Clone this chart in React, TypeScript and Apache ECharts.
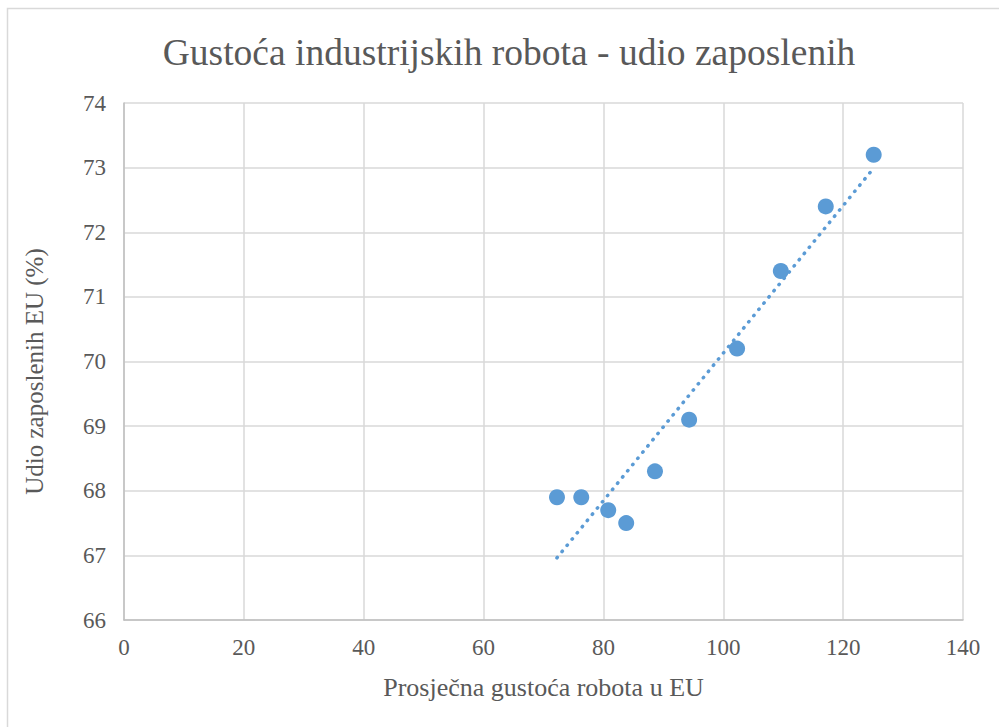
import React, { useEffect, useRef } from "react";
import * as echarts from "echarts";

const robotDensity = [72.25, 76.3, 80.8, 83.8, 88.6, 94.3, 102.3, 109.6, 117.1, 125.1];
const employmentShare = [67.9, 67.9, 67.7, 67.5, 68.3, 69.1, 70.2, 71.4, 72.4, 73.2];

const titleText = "Gustoća industrijskih robota - udio zaposlenih";
const xAxisTitle = "Prosječna gustoća robota u EU";
const yAxisTitle = "Udio zaposlenih EU (%)";

function linearFit(xs: number[], ys: number[]) {
  const n = xs.length;
  const mx = xs.reduce((a, b) => a + b, 0) / n;
  const my = ys.reduce((a, b) => a + b, 0) / n;
  let sxy = 0;
  let sxx = 0;
  for (let i = 0; i < n; i++) {
    sxy += (xs[i] - mx) * (ys[i] - my);
    sxx += (xs[i] - mx) * (xs[i] - mx);
  }
  const slope = sxy / sxx;
  return { slope, intercept: my - slope * mx };
}

export default function App() {
  const ref = useRef<HTMLDivElement>(null);
  useEffect(() => {
    if (!ref.current) return;
    const chart = echarts.init(ref.current, undefined, { renderer: "svg" });
    const fit = linearFit(robotDensity, employmentShare);
    const xMin = Math.min(...robotDensity);
    const xMax = Math.max(...robotDensity);
    const trend = [
      [xMin, fit.intercept + fit.slope * xMin],
      [xMax, fit.intercept + fit.slope * xMax],
    ];
    const font = "Liberation Serif";
    const grey = "#595959";
    chart.setOption({
      animation: false,
      backgroundColor: "#ffffff",
      textStyle: { fontFamily: font },
      title: {
        text: titleText,
        left: 504,
        top: 28,
        textAlign: "center",
        textStyle: { fontFamily: font, fontSize: 37.5, fontWeight: "normal", color: grey },
      },
      graphic: [
        {
          type: "rect",
          shape: { x: 7.5, y: 8.5, width: 1100, height: 900 },
          style: { fill: "none", stroke: "#d9d9d9", lineWidth: 1.5 },
          silent: true,
        },
      ],
      grid: { left: 124, top: 103, right: 36, bottom: 107, containLabel: false },
      xAxis: {
        type: "value",
        min: 0,
        max: 140,
        interval: 20,
        name: xAxisTitle,
        nameLocation: "middle",
        nameGap: 54,
        nameTextStyle: { fontFamily: font, fontSize: 26, color: grey },
        axisLine: { show: true, lineStyle: { color: "#bfbfbf", width: 1.5 } },
        axisTick: { show: false },
        axisLabel: { fontFamily: font, fontSize: 23, color: grey, margin: 16 },
        splitLine: { show: true, lineStyle: { color: "#d9d9d9", width: 1.5 } },
      },
      yAxis: {
        type: "value",
        min: 66,
        max: 74,
        interval: 1,
        name: yAxisTitle,
        nameLocation: "middle",
        nameGap: 77,
        nameTextStyle: { fontFamily: font, fontSize: 25, color: grey, padding: [0, 20, 0, 0] },
        axisLine: { show: true, lineStyle: { color: "#bfbfbf", width: 1.5 } },
        axisTick: { show: false },
        axisLabel: { fontFamily: font, fontSize: 23, color: grey, margin: 18 },
        splitLine: { show: true, lineStyle: { color: "#d9d9d9", width: 1.5 } },
      },
      series: [
        {
          type: "line",
          data: trend,
          showSymbol: false,
          symbol: "none",
          lineStyle: { color: "#5b9bd5", width: 3.5, type: [0.5, 7.5], cap: "round" },
          silent: true,
          z: 1,
        },
        {
          type: "scatter",
          data: robotDensity.map((x, i) => [x, employmentShare[i]]),
          symbol: "circle",
          symbolSize: 16,
          itemStyle: { color: "#5b9bd5", opacity: 1 },
          z: 2,
        },
      ],
    });
    return () => chart.dispose();
  }, []);
  return (
    <div
      ref={ref}
      style={{ position: "fixed", left: 0, top: 0, width: 999, height: 727, background: "#fff" }}
    />
  );
}
